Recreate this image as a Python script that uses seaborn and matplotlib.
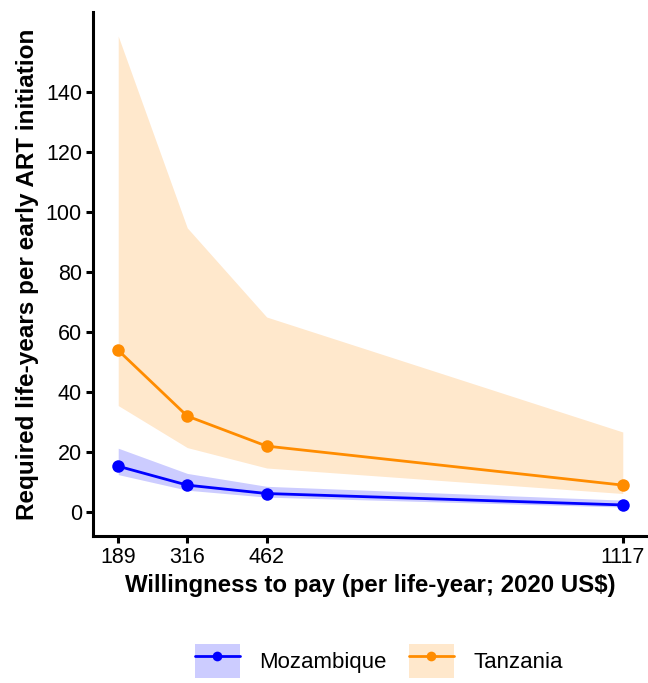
import matplotlib
matplotlib.use("Agg")
import matplotlib.pyplot as plt
from matplotlib.patches import Patch
from matplotlib.lines import Line2D
import seaborn as sns
import pandas as pd

# Willingness-to-pay thresholds (per life-year; 2020 US$)
wtp = [189, 316, 462, 1117]

# Required life-years per early ART initiation: median and uncertainty range
moz_mid = [15.3, 9.0, 6.2, 2.4]
moz_lo = [12.5, 7.3, 5.0, 1.7]
moz_hi = [21.3, 12.9, 8.6, 4.0]

tza_mid = [53.9, 32.0, 22.0, 9.0]
tza_lo = [35.5, 21.5, 14.7, 6.2]
tza_hi = [158.6, 94.7, 65.0, 26.7]

countries = ["Mozambique", "Tanzania"]
colors = {"Mozambique": "#0000FF", "Tanzania": "#FF8C00"}

df = pd.DataFrame({
    "wtp": wtp * 2,
    "value": moz_mid + tza_mid,
    "lo": moz_lo + tza_lo,
    "hi": moz_hi + tza_hi,
    "country": ["Mozambique"] * 4 + ["Tanzania"] * 4,
})

sns.set_theme(style="ticks")
plt.rcParams["font.family"] = ["Liberation Sans", "DejaVu Sans"]
plt.rcParams["text.color"] = "black"

fig = plt.figure(figsize=(6.48, 6.83), dpi=100)
ax = fig.add_axes([0.1435, 0.215, 0.8565, 0.767])

for c in countries:
    sub = df[df["country"] == c]
    ax.fill_between(sub["wtp"], sub["lo"], sub["hi"], color=colors[c],
                    alpha=0.2, linewidth=0, zorder=1)

sns.lineplot(data=df, x="wtp", y="value", hue="country", palette=colors,
             marker="o", markersize=9, markeredgewidth=0, linewidth=2.0,
             legend=False, ax=ax, zorder=3)

ax.set_xlim(142.6, 1163.4)
ax.set_ylim(-8, 166.5)
ax.set_xticks(wtp)
ax.set_xticklabels([str(v) for v in wtp])
ax.set_yticks(range(0, 141, 20))

for side in ["top", "right"]:
    ax.spines[side].set_visible(False)
for side in ["left", "bottom"]:
    ax.spines[side].set_linewidth(2.2)
    ax.spines[side].set_color("black")
ax.tick_params(axis="both", length=5, width=2.2, color="black",
               labelsize=15.5, labelcolor="black", pad=3)

ax.set_xlabel("Willingness to pay (per life-year; 2020 US$)", fontsize=17.3,
              fontweight="bold", color="black", labelpad=4)
ax.set_ylabel("Required life-years per early ART initiation", fontsize=17.5,
              fontweight="bold", color="black", labelpad=5)

handles = []
for c in countries:
    patch = Patch(facecolor=colors[c], alpha=0.2, edgecolor="none")
    line = Line2D([], [], color=colors[c], marker="o", markersize=7,
                  markeredgewidth=0, linewidth=2.0)
    handles.append((patch, line))

fig.legend(handles, countries, loc="center", bbox_to_anchor=(0.585, 0.032),
           ncol=2, frameon=False, fontsize=16, handlelength=2.0,
           handleheight=2.0, columnspacing=1.0, handletextpad=0.9,
           labelcolor="black")

fig.savefig("out.png", dpi=100, facecolor="white")
